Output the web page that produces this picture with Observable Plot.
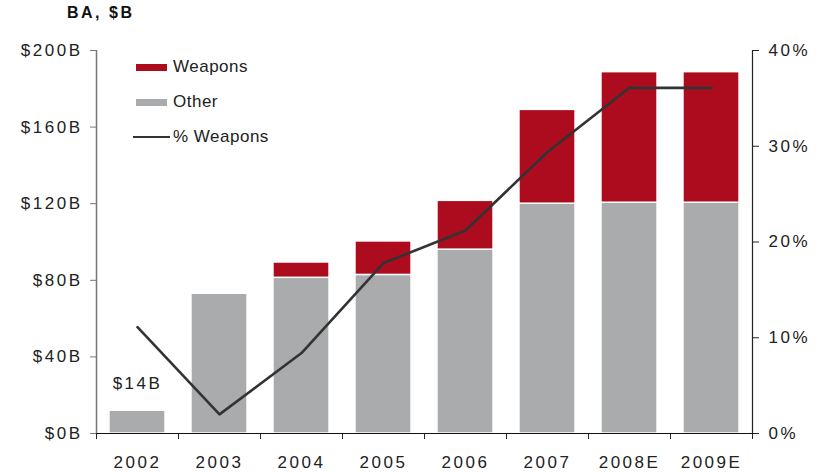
<!DOCTYPE html>
<html>
<head>
<meta charset="utf-8">
<script src="https://cdn.jsdelivr.net/npm/d3@7"></script>
<script src="https://cdn.jsdelivr.net/npm/@observablehq/plot@0.6"></script>
<style>
  body { margin: 0; background: #fff; font-family: "Liberation Sans", Arial, sans-serif; }
  #wrap { position: relative; width: 826px; height: 472px; }
  #title { height: 26px; font-weight: bold; font-size: 16px; letter-spacing: 2.5px; color: #111;
           padding-left: 67px; line-height: 26px; }
  .legend { position: absolute; left: 133px; font-size: 17px; letter-spacing: 0.5px; color: #222; display: flex; align-items: center; }
  .sw { display: inline-block; width: 31px; height: 7px; margin-left: 3px; margin-right: 6px; }
  .ln { display: inline-block; width: 37px; height: 2.5px; background: #333; margin-right: 3px; }
</style>
</head>
<body>
<div id="wrap">
  <div id="title">BA, $B</div>
  <div id="chart"></div>
</div>
<script>
const years = ["2002", "2003", "2004", "2005", "2006", "2007", "2008E", "2009E"];
const other = [12, 73, 81.3, 82.8, 96, 120, 120.5, 120.5];
const weapons = [0.3, 0.3, 8, 17.5, 25.5, 49, 68.2, 68.2];
const pctWeapons = [11.1, 2.0, 8.4, 17.8, 21.2, 29.4, 36.1, 36.1];
const leftTicks = [0, 40, 80, 120, 160, 200];
const rightTicks = [0, 10, 20, 30, 40];
const seriesNames = ["Other", "Weapons"];
const seriesColors = ["#aaabad", "#ad0c1f"];
const annotation = { index: 0, text: "$14B" };

const pctToB = 200 / 40; // 40% aligns with $200B

const rows = [];
years.forEach((y, i) => {
  rows.push({ i, series: "Other", value: other[i] });
  rows.push({ i, series: "Weapons", value: weapons[i] });
});
const linePts = pctWeapons.map((p, i) => ({ i, v: p * pctToB }));
const half = 0.342;

const font = "Liberation Sans, Arial, sans-serif";

const chart = Plot.plot({
  width: 826,
  height: 446,
  marginTop: 24,
  marginBottom: 39,
  marginLeft: 96,
  marginRight: 74,
  style: { fontFamily: font, fontSize: "17px", color: "#222", background: "white" },
  x: { domain: [-0.5, years.length - 0.5], axis: null },
  y: { domain: [0, 200], axis: null },
  color: { domain: seriesNames, range: seriesColors },
  marks: [
    Plot.rectY(rows, {
      x1: d => d.i - half, x2: d => d.i + half, y: "value", fill: "series",
      order: seriesNames, stroke: "white", strokeWidth: 1.5
    }),
    Plot.ruleY([0], { stroke: "#111", strokeWidth: 1.2 }),
    Plot.ruleX([-0.5], { y1: 0, y2: 200, stroke: "#777", strokeWidth: 1.5 }),
    Plot.ruleX([years.length - 0.5], { y1: 0, y2: 200, stroke: "#222", strokeWidth: 1.2 }),
    Plot.line(linePts, { x: "i", y: "v", stroke: "#333", strokeWidth: 2.6 }),
    Plot.text([annotation], {
      x: "index", y: d => other[d.index] + weapons[d.index], text: "text",
      dy: -26, fontSize: 17, fill: "#222"
    }),
    Plot.axisY({
      anchor: "left", ticks: leftTicks, tickFormat: d => `$${d}B`,
      tickSize: 6, tickPadding: 8, stroke: "#777", fontSize: 17, label: null
    }),
    Plot.axisY({
      anchor: "right", ticks: rightTicks.map(t => t * pctToB),
      tickFormat: d => `${d / pctToB}%`, tickSize: 6, tickPadding: 10,
      stroke: "#222", fontSize: 17, label: null
    }),
    Plot.axisX({
      anchor: "bottom", ticks: d3.range(years.length), tickFormat: i => years[i],
      tickSize: 0, tickPadding: 22, fontSize: 17, label: null
    }),
    Plot.axisX({
      anchor: "bottom", ticks: d3.range(years.length + 1).map(k => k - 0.5),
      tickFormat: () => "", tickSize: 6, stroke: "#222", label: null
    })
  ]
});
d3.select(chart).selectAll("text").style("letter-spacing", "2.5px");
document.getElementById("chart").appendChild(chart);

const wrap = document.getElementById("wrap");
const legendItems = [
  { label: "Weapons", kind: "bar", color: seriesColors[1], top: 57 },
  { label: "Other", kind: "bar", color: seriesColors[0], top: 92 },
  { label: "% Weapons", kind: "line", color: "#333", top: 127 }
];
legendItems.forEach(it => {
  const div = document.createElement("div");
  div.className = "legend";
  div.style.top = it.top + "px";
  div.style.height = "20px";
  const sw = document.createElement("span");
  if (it.kind === "bar") { sw.className = "sw"; sw.style.background = it.color; }
  else { sw.className = "ln"; }
  div.appendChild(sw);
  const t = document.createElement("span");
  t.textContent = it.label;
  div.appendChild(t);
  wrap.appendChild(div);
});
</script>
</body>
</html>
